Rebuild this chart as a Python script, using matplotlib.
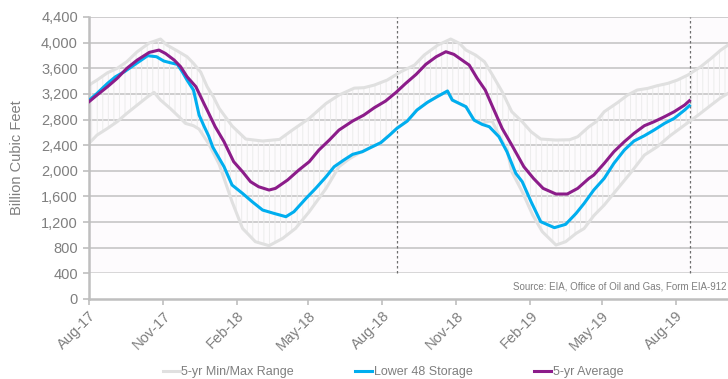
import pandas as pd
import numpy as np
import matplotlib
matplotlib.use('Agg')
import matplotlib.pyplot as plt
import matplotlib.dates as mdates
from matplotlib.ticker import FuncFormatter

plt.rcParams['font.family'] = ['Liberation Sans', 'DejaVu Sans']
plt.rcParams['hatch.linewidth'] = 0.7

# Lower 48 storage (Bcf)
storage_dates = ['2017-08-01', '2017-08-11', '2017-08-24', '2017-09-03', '2017-09-14', '2017-09-26',
                 '2017-10-13', '2017-10-24', '2017-11-02', '2017-11-10', '2017-11-19', '2017-11-25',
                 '2017-12-01', '2017-12-09', '2017-12-16', '2017-12-22', '2017-12-28', '2018-01-02',
                 '2018-01-10', '2018-01-16', '2018-01-26', '2018-02-08', '2018-02-20', '2018-03-05',
                 '2018-03-19', '2018-04-03', '2018-04-13', '2018-04-28', '2018-05-10', '2018-05-23',
                 '2018-06-02', '2018-06-14', '2018-06-25', '2018-07-07', '2018-07-17', '2018-07-30',
                 '2018-08-11', '2018-08-19', '2018-09-01', '2018-09-13', '2018-09-26', '2018-10-08',
                 '2018-10-21', '2018-10-27', '2018-11-13', '2018-11-23', '2018-12-03', '2018-12-12',
                 '2018-12-24', '2019-01-03', '2019-01-14', '2019-01-22', '2019-02-02', '2019-02-14',
                 '2019-03-03', '2019-03-17', '2019-03-30', '2019-04-09', '2019-04-21', '2019-05-04',
                 '2019-05-16', '2019-05-29', '2019-06-10', '2019-06-23', '2019-07-05', '2019-07-18',
                 '2019-07-30', '2019-08-12', '2019-08-18']
storage = [3100, 3208, 3364, 3468, 3546, 3650, 3796, 3780, 3713, 3687, 3661, 3546,
           3416, 3260, 2870, 2700, 2540, 2370, 2194, 2064, 1778, 1648, 1518, 1388,
           1336, 1284, 1362, 1570, 1726, 1908, 2064, 2168, 2257, 2298, 2361, 2439,
           2569, 2662, 2777, 2948, 3068, 3156, 3245, 3104, 3000, 2792, 2725, 2688,
           2532, 2298, 1960, 1830, 1518, 1206, 1113, 1165, 1336, 1492, 1700, 1882,
           2116, 2324, 2465, 2548, 2636, 2740, 2818, 2948, 3016]

# 5-yr average
avg_dates = ['2017-08-01', '2017-08-11', '2017-08-24', '2017-09-05', '2017-09-17', '2017-09-30',
             '2017-10-15', '2017-10-27', '2017-11-04', '2017-11-15', '2017-11-23', '2017-12-01',
             '2017-12-12', '2017-12-22', '2017-12-28', '2018-01-05', '2018-01-16', '2018-01-28',
             '2018-02-08', '2018-02-18', '2018-02-28', '2018-03-13', '2018-03-21', '2018-04-05',
             '2018-04-19', '2018-05-02', '2018-05-14', '2018-05-27', '2018-06-08', '2018-06-25',
             '2018-07-09', '2018-07-22', '2018-08-05', '2018-08-18', '2018-08-30', '2018-09-12',
             '2018-09-24', '2018-10-07', '2018-10-19', '2018-10-29', '2018-11-11', '2018-11-17',
             '2018-11-27', '2018-12-07', '2018-12-17', '2018-12-28', '2019-01-09', '2019-01-24',
             '2019-02-05', '2019-02-17', '2019-03-05', '2019-03-19', '2019-04-01', '2019-04-15',
             '2019-04-21', '2019-05-04', '2019-05-16', '2019-05-29', '2019-06-10', '2019-06-23',
             '2019-07-05', '2019-07-18', '2019-07-30', '2019-08-12', '2019-08-18']
avg5 = [3078, 3182, 3312, 3442, 3598, 3728, 3848, 3884, 3832, 3728, 3624, 3468,
        3312, 3050, 2896, 2688, 2454, 2142, 1986, 1830, 1752, 1700, 1726, 1856,
        2012, 2142, 2324, 2480, 2636, 2777, 2870, 2985, 3089, 3224, 3364, 3505,
        3661, 3780, 3858, 3817, 3702, 3650, 3442, 3260, 2974, 2662, 2402, 2064,
        1882, 1726, 1638, 1638, 1726, 1882, 1934, 2116, 2298, 2454, 2584, 2704,
        2766, 2844, 2922, 3026, 3094]

# 5-yr max
max_dates = ['2017-08-01', '2017-08-11', '2017-08-24', '2017-09-05', '2017-09-17', '2017-09-30',
             '2017-10-15', '2017-10-29', '2017-11-06', '2017-11-19', '2017-12-01', '2017-12-09',
             '2017-12-18', '2017-12-26', '2018-01-03', '2018-01-10', '2018-01-26', '2018-02-12',
             '2018-03-05', '2018-03-26', '2018-04-11', '2018-05-02', '2018-05-23', '2018-06-08',
             '2018-06-27', '2018-07-09', '2018-07-22', '2018-08-07', '2018-08-24', '2018-09-10',
             '2018-09-22', '2018-10-09', '2018-10-25', '2018-11-05', '2018-11-13', '2018-11-25',
             '2018-12-06', '2018-12-16', '2018-12-28', '2019-01-09', '2019-01-22', '2019-02-02',
             '2019-02-14', '2019-03-05', '2019-03-22', '2019-04-01', '2019-04-15', '2019-04-24',
             '2019-05-04', '2019-05-21', '2019-06-02', '2019-06-14', '2019-06-27', '2019-07-09',
             '2019-07-22', '2019-08-03', '2019-08-16', '2019-09-01', '2019-09-14', '2019-09-26',
             '2019-10-05']
max5 = [3338, 3416, 3530, 3598, 3702, 3858, 3995, 4056, 3962, 3870, 3780, 3676,
        3540, 3312, 3150, 2974, 2700, 2496, 2465, 2490, 2636, 2818, 3052, 3182,
        3290, 3297, 3338, 3416, 3546, 3650, 3806, 3962, 4056, 3988, 3884, 3806,
        3702, 3494, 3234, 2922, 2766, 2610, 2496, 2480, 2485, 2532, 2688, 2766,
        2922, 3068, 3182, 3260, 3286, 3328, 3364, 3416, 3494, 3624, 3754, 3884,
        3962]

# 5-yr min
min_dates = ['2017-08-01', '2017-08-11', '2017-08-24', '2017-09-05', '2017-09-17', '2017-09-30',
             '2017-10-13', '2017-10-21', '2017-10-29', '2017-11-10', '2017-11-23', '2017-11-29',
             '2017-12-09', '2017-12-16', '2017-12-28', '2018-01-10', '2018-01-26', '2018-02-08',
             '2018-02-24', '2018-03-13', '2018-03-30', '2018-04-15', '2018-05-02', '2018-05-23',
             '2018-06-08', '2018-06-20', '2018-07-02', '2018-07-17', '2018-07-30', '2018-08-11',
             '2018-08-19', '2018-09-01', '2018-09-13', '2018-09-26', '2018-10-08', '2018-10-21',
             '2018-10-27', '2018-11-13', '2018-11-23', '2018-12-03', '2018-12-12', '2018-12-16',
             '2018-12-24', '2019-01-03', '2019-01-09', '2019-01-22', '2019-02-04', '2019-02-16',
             '2019-03-05', '2019-03-17', '2019-03-30', '2019-04-09', '2019-04-21', '2019-05-04',
             '2019-05-21', '2019-06-07', '2019-06-23', '2019-07-09', '2019-07-25', '2019-08-12',
             '2019-08-29', '2019-09-14', '2019-09-26', '2019-10-05']
min5 = [2428, 2558, 2662, 2766, 2896, 3026, 3156, 3224, 3104, 2974, 2818, 2740,
        2704, 2650, 2420, 2100, 1518, 1102, 894, 832, 946, 1102, 1362, 1726,
        2064, 2180, 2270, 2361, 2439, 2569, 2662, 2777, 2948, 3068, 3156, 3245,
        3104, 3000, 2792, 2740, 2777, 2766, 2560, 2330, 1986, 1674, 1310, 1050,
        842, 894, 1024, 1100, 1300, 1466, 1726, 1986, 2246, 2376, 2548, 2714,
        2870, 3026, 3141, 3208]

marker_dates = ['2018-08-19', '2019-08-19']
source_note = 'Source: EIA, Office of Oil and Gas, Form EIA-912'

grey_txt = '#7f7f7f'
grid_c = '#c6c6c6'
range_c = '#e0e0e0'
blue = '#00aeef'
purple = '#8c1c8a'

fig = plt.figure(figsize=(7.28, 3.79), dpi=100)
ax = fig.add_axes([89 / 728, 1 - 299 / 379, 1 - 89 / 728, 282 / 379])
ax.set_facecolor('#fdfbfd')

sx = mdates.date2num(pd.to_datetime(storage_dates))
ax_ = mdates.date2num(pd.to_datetime(avg_dates))
mx = mdates.date2num(pd.to_datetime(max_dates))
nx = mdates.date2num(pd.to_datetime(min_dates))

# hatched min/max band
ax.fill(np.concatenate([mx, nx[::-1]]), np.concatenate([max5, min5[::-1]]),
        facecolor='none', edgecolor='#ececec', hatch='|||', linewidth=0, zorder=1)

ax.axhspan(0, 400, color='white', zorder=1.2)
for d in marker_dates:
    ax.axvline(mdates.date2num(pd.Timestamp(d)), ymin=400 / 4400, ymax=1,
               color='#6e6e6e', linestyle=(0, (2, 2)), linewidth=0.9, zorder=1.5)

ax.plot(mx, max5, color=range_c, linewidth=2.2, zorder=2, label='5-yr Min/Max Range')
ax.plot(nx, min5, color=range_c, linewidth=2.2, zorder=2)
ax.plot(sx, storage, color=blue, linewidth=2.2, zorder=3, label='Lower 48 Storage')
ax.plot(ax_, avg5, color=purple, linewidth=2.2, zorder=4, label='5-yr Average')

ax.set_ylim(0, 4400)
ax.set_yticks(np.arange(0, 4401, 400))
ax.yaxis.set_major_formatter(FuncFormatter(lambda v, p: '{:,.0f}'.format(v)))
ax.set_xlim(mdates.date2num(pd.Timestamp('2017-08-01')), mdates.date2num(pd.Timestamp('2019-10-05')))
ax.xaxis.set_major_locator(mdates.MonthLocator(bymonth=[2, 5, 8, 11]))
ax.xaxis.set_major_formatter(mdates.DateFormatter('%b-%y'))

ax.grid(axis='y', color=grid_c, linewidth=1.2, zorder=0)
ax.set_axisbelow(True)
for s in ['top', 'right']:
    ax.spines[s].set_visible(False)
for s in ['left', 'bottom']:
    ax.spines[s].set_color('#bfbfbf')
    ax.spines[s].set_linewidth(1.8)

ax.tick_params(axis='both', colors='#bfbfbf', labelcolor=grey_txt, labelsize=10.5, length=4, width=1.2)
ax.tick_params(axis='x', pad=3)
ax.tick_params(axis='y', pad=4)
plt.setp(ax.get_xticklabels(), rotation=45, ha='right', rotation_mode='anchor')

ax.set_ylabel('Billion Cubic Feet', color=grey_txt, fontsize=10.5)
ax.yaxis.set_label_coords(-0.102, 0.5)

ax.text(0.997, 200, source_note, transform=ax.get_yaxis_transform(), ha='right', va='center',
        fontsize=7, color=grey_txt, zorder=5)

fig.legend(loc='center', bbox_to_anchor=(393 / 728, 1 - 372 / 379), ncol=3, frameon=False,
           fontsize=9, labelcolor=grey_txt, handlelength=1.35, handletextpad=0.15,
           columnspacing=4.9, borderpad=0)

fig.savefig('out.png', dpi=100)
